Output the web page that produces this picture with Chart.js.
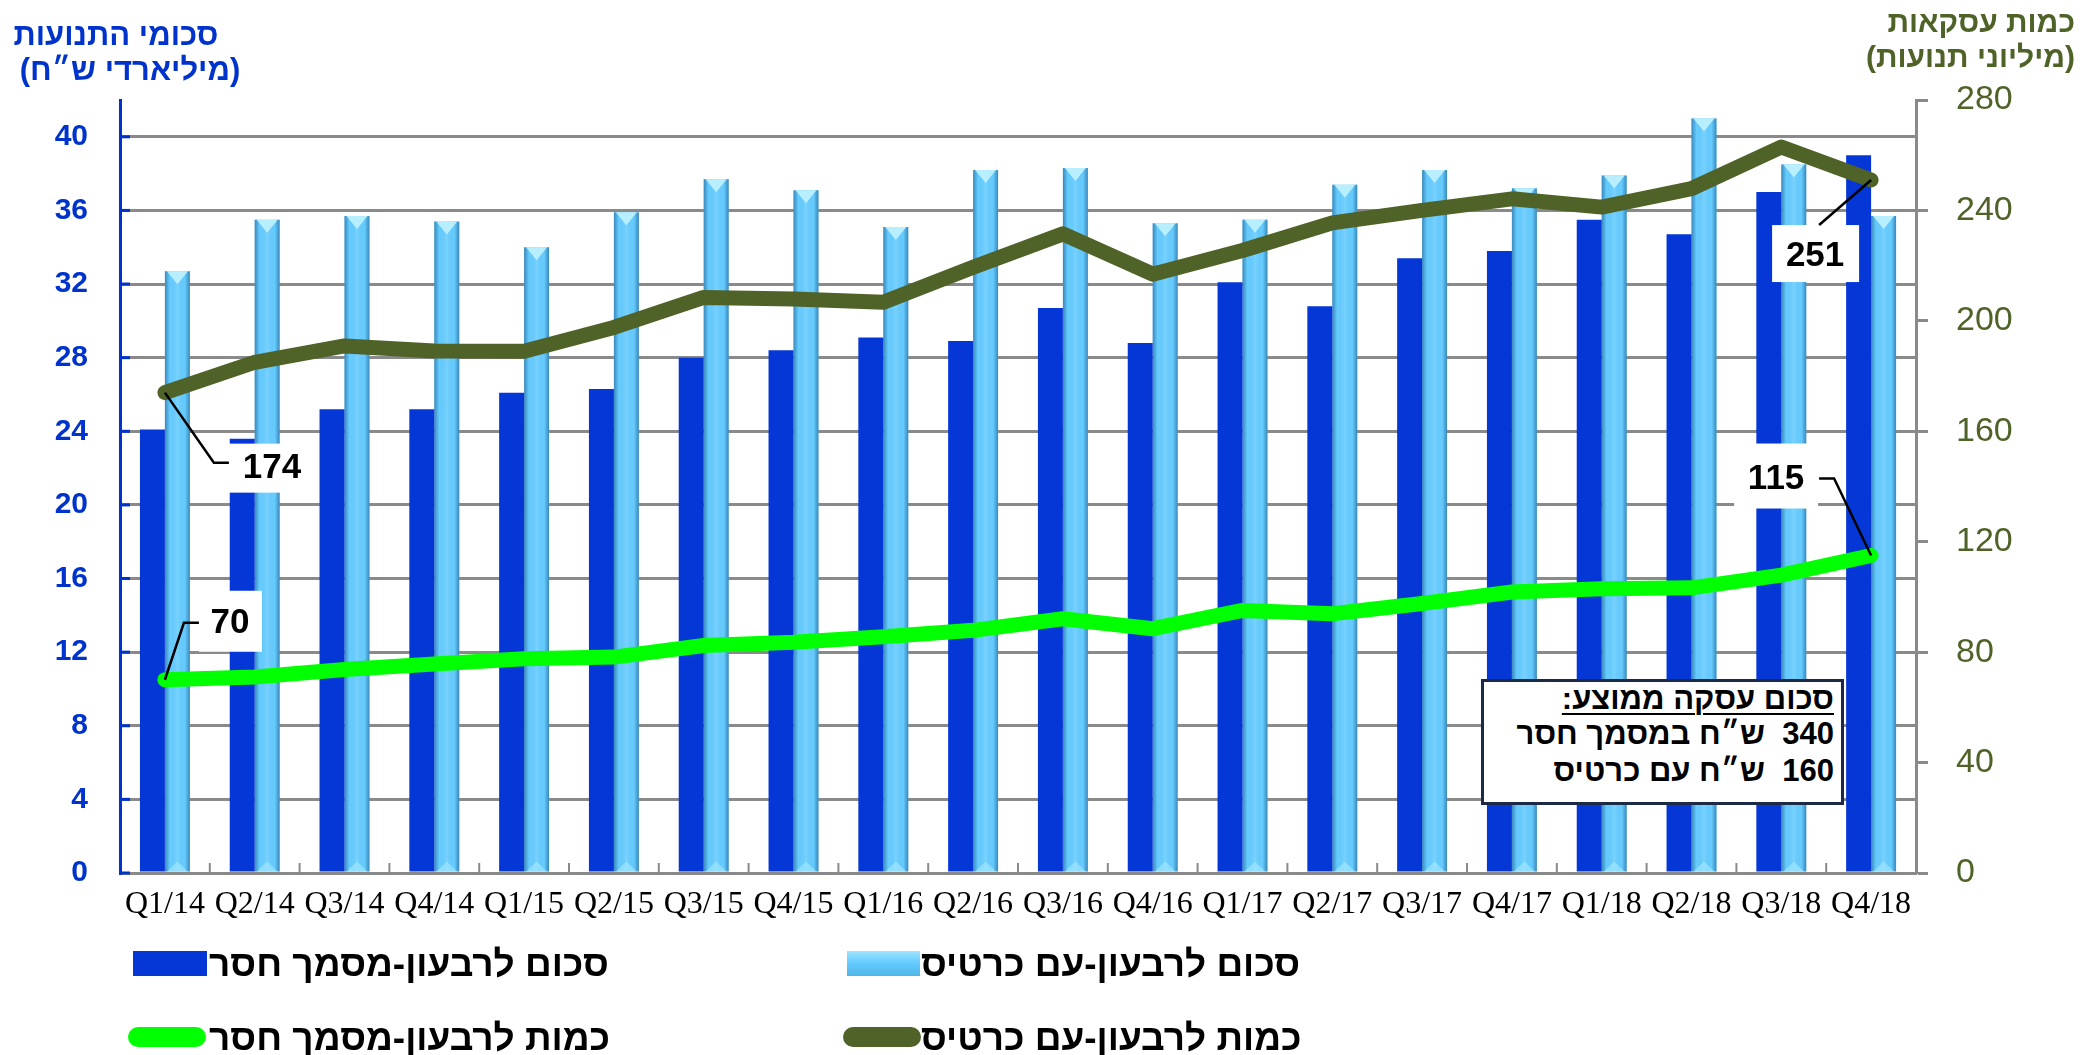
<!DOCTYPE html>
<html><head><meta charset="utf-8">
<script src="https://cdn.jsdelivr.net/npm/chart.js@4/dist/chart.umd.min.js"></script>
<style>
html,body{margin:0;padding:0;background:#fff;}
#wrap{position:relative;width:2090px;height:1055px;overflow:hidden;background:#fff;}
#c{position:absolute;left:0;top:0;width:2090px;height:1055px;}
#info{position:absolute;left:1481px;top:679px;width:363px;height:126px;border:3px solid #1c2a48;background:#fff;box-sizing:border-box;}
.sw{position:absolute;}
</style></head><body>
<div id="wrap"><canvas id="c" width="2090" height="1055"></canvas><div id="info"></div></div>
<script>
// ---- data ----
const categories = ['Q1/14','Q2/14','Q3/14','Q4/14','Q1/15','Q2/15','Q3/15','Q4/15','Q1/16','Q2/16','Q3/16','Q4/16','Q1/17','Q2/17','Q3/17','Q4/17','Q1/18','Q2/18','Q3/18','Q4/18'];
const amountMissingDoc = [24.1, 23.6, 25.2, 25.2, 26.1, 26.3, 28.0, 28.4, 29.1, 28.9, 30.7, 28.8, 32.1, 30.8, 33.4, 33.8, 35.5, 34.7, 37.0, 39.0];
const amountWithCard   = [32.7, 35.5, 35.7, 35.4, 34.0, 35.9, 37.7, 37.1, 35.1, 38.2, 38.3, 35.3, 35.5, 37.4, 38.2, 37.2, 37.9, 41.0, 38.5, 35.7];
const countMissingDoc  = [70, 71, 73.7, 75.7, 77.6, 78.2, 82.4, 83.6, 85.6, 87.9, 92.1, 88.5, 95.1, 93.9, 97.6, 101.8, 103, 103.3, 107.9, 115];
const countWithCard    = [174, 185, 190.9, 189.1, 189, 197.6, 208.5, 207.9, 206.7, 219.4, 231.5, 216.9, 225.5, 235.5, 240, 244.2, 241.2, 247.9, 263, 251];
const seriesNames = ['סכום לרבעון-מסמך חסר', 'סכום לרבעון-עם כרטיס', 'כמות לרבעון-מסמך חסר', 'כמות לרבעון-עם כרטיס'];
const leftTitle = ['סכומי התנועות', '(מיליארדי ש״ח)'];
const rightTitle = ['כמות עסקאות', '(מיליוני תנועות)'];
const infoLines = ['סכום עסקה ממוצע:', '340  ש״ח במסמך חסר', '160  ש״ח עם כרטיס'];
const leftTicks = {min: 0, max: 42, step: 4};
const rightTicks = {min: 0, max: 280, step: 40};

// ---- styles ----
const W = 2090, H = 1055;
const BLUE = '#0536d6', LIGHT = '#66ccff', GREEN = '#00ff00', OLIVE = '#4f6228';
const AXBLUE = '#0033cc', GRID = '#8a8a8a';
const HEB = '"Liberation Sans", Arial, sans-serif';

const wrap = document.getElementById('wrap');
function addText(txt, o) {
  const d = document.createElement('div');
  d.textContent = txt;
  d.dir = 'rtl';
  const size = o.size || 30;
  Object.assign(d.style, {position:'absolute', whiteSpace:'pre',
    font: (o.weight || 'bold') + ' ' + size + 'px ' + (o.family || HEB),
    lineHeight: size + 'px', color: o.color || '#000', top: (o.cy - 0.49*size) + 'px'});
  const pw = o.pw || W;
  if (o.anchor === 'right') d.style.right = (pw - o.x) + 'px';
  else if (o.anchor === 'center') { d.style.left = o.x + 'px'; d.style.transform = 'translateX(-50%)'; }
  else d.style.left = o.x + 'px';
  if (o.underline) { d.style.textDecoration = 'underline'; d.style.textDecorationThickness = '2px'; d.style.textUnderlineOffset = '4px'; }
  (o.parent || wrap).appendChild(d);
  return d;
}
// titles
addText(leftTitle[0], {x:116, cy:34, anchor:'center', size:31, color:AXBLUE});
addText(leftTitle[1], {x:130, cy:69, anchor:'center', size:31, color:AXBLUE});
addText(rightTitle[0], {x:2075, cy:22, anchor:'right', size:30, color:OLIVE});
addText(rightTitle[1], {x:2075, cy:57, anchor:'right', size:30, color:OLIVE});
// info box (inner width 357)
const info = document.getElementById('info');
addText(infoLines[0], {x:350, cy:16, anchor:'right', size:31, parent:info, pw:357, underline:true});
addText(infoLines[1], {x:350, cy:51, anchor:'right', size:31, parent:info, pw:357});
addText(infoLines[2], {x:350, cy:88, anchor:'right', size:31, parent:info, pw:357});
// legend
function swatch(x, y, w, h, bg, radius) {
  const s = document.createElement('div'); s.className = 'sw';
  Object.assign(s.style, {left:x+'px', top:y+'px', width:w+'px', height:h+'px', background:bg, borderRadius:(radius||0)+'px'});
  wrap.appendChild(s);
}
swatch(133, 951, 74, 25, BLUE);
swatch(847, 951, 73, 25, 'linear-gradient(180deg,#9fe4ff 0%,#66ccff 45%,#4fb4e6 100%)');
swatch(128, 1027, 78, 20, GREEN, 10);
swatch(843, 1027, 78, 20, OLIVE, 10);
addText(seriesNames[0], {x:209, cy:963, anchor:'left', size:37});
addText(seriesNames[1], {x:921, cy:963, anchor:'left', size:37});
addText(seriesNames[2], {x:209, cy:1037, anchor:'left', size:37});
addText(seriesNames[3], {x:921, cy:1037, anchor:'left', size:37});

// ---- plugins ----
const decor = {
  id: 'decor',
  beforeDatasetsDraw(chart) {
    const ctx = chart.ctx, a = chart.chartArea;
    ctx.save();
    ctx.strokeStyle = AXBLUE; ctx.lineWidth = 3;
    chart.scales.y.ticks.forEach(t => {
      const yy = chart.scales.y.getPixelForValue(t.value);
      ctx.beginPath(); ctx.moveTo(a.left, yy); ctx.lineTo(a.left + 10, yy); ctx.stroke();
    });
    ctx.strokeStyle = GRID; ctx.lineWidth = 2;
    const n = categories.length, cw = (a.right - a.left) / n;
    for (let i = 1; i < n; i++) {
      const xx = a.left + i * cw;
      ctx.beginPath(); ctx.moveTo(xx, a.bottom); ctx.lineTo(xx, a.bottom - 10); ctx.stroke();
    }
    ctx.restore();
  },
  afterDatasetDraw(chart, args) {
    if (args.index !== 1) return;
    const ctx = chart.ctx;
    ctx.save();
    args.meta.data.forEach(bar => {
      const p = bar.getProps(['x','y','base','width'], true);
      const l = p.x - p.width/2, r = p.x + p.width/2;
      const g = ctx.createLinearGradient(l, 0, r, 0);
      g.addColorStop(0, 'rgba(20,80,130,0.55)');
      g.addColorStop(0.2, 'rgba(20,80,130,0.0)');
      g.addColorStop(0.5, 'rgba(255,255,255,0.12)');
      g.addColorStop(0.8, 'rgba(20,80,130,0.0)');
      g.addColorStop(1, 'rgba(20,80,130,0.55)');
      ctx.fillStyle = g; ctx.fillRect(l, p.y, p.width, p.base - p.y);
      ctx.beginPath(); ctx.moveTo(l + 2, p.y); ctx.lineTo(r - 2, p.y); ctx.lineTo(p.x, p.y + 13); ctx.closePath();
      ctx.fillStyle = '#b8efff'; ctx.fill();
      ctx.beginPath(); ctx.moveTo(l + 2, p.base); ctx.lineTo(r - 2, p.base); ctx.lineTo(p.x, p.base - 10); ctx.closePath();
      ctx.fillStyle = 'rgba(160,230,255,0.7)'; ctx.fill();
    });
    ctx.restore();
  },
  afterDatasetsDraw(chart) {
    const ctx = chart.ctx;
    const g = chart.getDatasetMeta(2).data, o = chart.getDatasetMeta(3).data;
    const last = categories.length - 1;
    const labels = [
      {pt: o[0], text: String(countWithCard[0]), box:[64,51,86,49], tc:[107,75], path:[[0,0],[49,70],[64,70]]},
      {pt: g[0], text: String(countMissingDoc[0]), box:[34,-89,63,61], tc:[65,-57], path:[[0,0],[19,-57],[34,-57]]},
      {pt: o[last], text: String(countWithCard[last]), box:[-99,45,87,57], tc:[-56,75], path:[[0,0],[-52,45]]},
      {pt: g[last], text: String(countMissingDoc[last]), box:[-137,-112,84,65], tc:[-95,-77], path:[[0,0],[-37,-77],[-52,-77]]},
    ];
    ctx.save();
    labels.forEach(L => {
      const x = L.pt.x, y = L.pt.y;
      ctx.fillStyle = '#fff';
      ctx.fillRect(x + L.box[0], y + L.box[1], L.box[2], L.box[3]);
      ctx.strokeStyle = '#000'; ctx.lineWidth = 2.5;
      ctx.beginPath();
      L.path.forEach((q, i) => i ? ctx.lineTo(x + q[0], y + q[1]) : ctx.moveTo(x + q[0], y + q[1]));
      ctx.stroke();
      ctx.fillStyle = '#000';
      ctx.font = 'bold 35px "Liberation Sans Narrow", "Liberation Sans", sans-serif';
      ctx.textAlign = 'center'; ctx.textBaseline = 'middle';
      ctx.fillText(L.text, x + L.tc[0], y + L.tc[1] + 1);
    });
    ctx.restore();
  }
};

new Chart(document.getElementById('c'), {
  data: {
    labels: categories,
    datasets: [
      {type:'bar', label: seriesNames[0], data: amountMissingDoc, yAxisID:'y', backgroundColor: BLUE, borderWidth:0, barPercentage:1, categoryPercentage:0.556, order:2},
      {type:'bar', label: seriesNames[1], data: amountWithCard, yAxisID:'y', backgroundColor: LIGHT, borderWidth:0, barPercentage:1, categoryPercentage:0.556, order:2},
      {type:'line', label: seriesNames[2], data: countMissingDoc, yAxisID:'y1', borderColor: GREEN, backgroundColor: GREEN, borderWidth:15, pointRadius:0, tension:0, borderJoinStyle:'round', borderCapStyle:'round', order:1},
      {type:'line', label: seriesNames[3], data: countWithCard, yAxisID:'y1', borderColor: OLIVE, backgroundColor: OLIVE, borderWidth:15, pointRadius:0, tension:0, borderJoinStyle:'round', borderCapStyle:'round', order:0},
    ]
  },
  options: {
    responsive: false, animation: false, devicePixelRatio: 1,
    layout: {padding: {top: 100, bottom: 122, left: 0, right: 0}},
    plugins: {legend: {display: false}, tooltip: {enabled: false}},
    scales: {
      x: {
        offset: true,
        grid: {display: true, drawOnChartArea: false, drawTicks: false},
        border: {color: GRID, width: 3},
        ticks: {color: '#000', font: {family: '"Liberation Serif", "Times New Roman", serif', size: 32}, padding: 12, maxRotation: 0, autoSkip: false},
        afterFit(s) { s.height = 60; }
      },
      y: {
        position: 'left', min: leftTicks.min, max: leftTicks.max,
        ticks: {stepSize: leftTicks.step, color: AXBLUE, font: {family: '"Liberation Sans", Arial, sans-serif', size: 30, weight: 'bold'}, padding: 32},
        afterBuildTicks(s) { s.ticks = s.ticks.filter(t => t.value % leftTicks.step === 0); },
        grid: {color: GRID, lineWidth: 3, drawTicks: false},
        border: {color: AXBLUE, width: 3},
        afterFit(s) { s.width = 120; }
      },
      y1: {
        position: 'right', min: rightTicks.min, max: rightTicks.max,
        ticks: {stepSize: rightTicks.step, color: OLIVE, font: {family: '"Liberation Sans", Arial, sans-serif', size: 34}, padding: 28},
        grid: {drawOnChartArea: false, drawTicks: true, tickLength: 12, tickColor: GRID, tickWidth: 3},
        border: {color: GRID, width: 3},
        afterFit(s) { s.width = 174; }
      }
    }
  },
  plugins: [decor]
});
</script>
</body></html>
